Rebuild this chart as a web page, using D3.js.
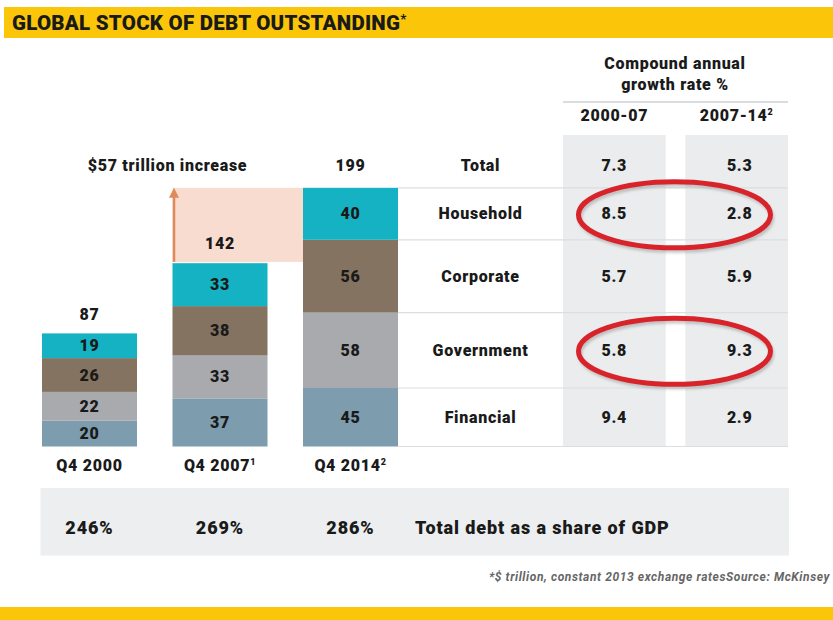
<!DOCTYPE html>
<html>
<head>
<meta charset="utf-8">
<script src="https://cdn.jsdelivr.net/npm/d3@7"></script>
<style>
  html, body { margin: 0; padding: 0; background: #fff; }
  svg { display: block; font-family: Roboto, "Open Sans", sans-serif; }
  text { font-weight: 900; fill: #1a1a1a; letter-spacing: 0.7px; }
</style>
</head>
<body>
<svg id="chart" width="833" height="620"></svg>
<script>
// ---- data ----
const categories = ["Q4 2000", "Q4 2007", "Q4 2014"];
const categorySup = ["", "1", "2"];
const sectors = ["Financial", "Government", "Corporate", "Household"]; // bottom to top
const financial  = [20, 37, 45];
const government = [22, 33, 58];
const corporate  = [26, 38, 56];
const household  = [19, 33, 40];
const totals     = [87, 142, 199];
const gdpShare   = ["246%", "269%", "286%"];
const periods    = ["2000-07", "2007-14"];
const periodSup  = ["", "2"];
const cagrRows   = ["Total", "Household", "Corporate", "Government", "Financial"];
const cagr0007   = [7.3, 8.5, 5.7, 5.8, 9.4];
const cagr0714   = [5.3, 2.8, 5.9, 9.3, 2.9];
const highlighted = ["Household", "Government"];

const seriesBySector = { Financial: financial, Government: government, Corporate: corporate, Household: household };
const colors = { Financial: "#7d9cad", Government: "#a8aaae", Corporate: "#847360", Household: "#14b2c2" };

const svg = d3.select("#chart");
const FS = "16px";

// ---- header & footer bands ----
svg.append("rect").attr("x", 4).attr("y", 7).attr("width", 829).attr("height", 31).attr("fill", "#fbc60a");
const title = svg.append("text").attr("x", 12).attr("y", 30).style("font-size", "20.5px").style("letter-spacing", "0.25px");
title.append("tspan").text("GLOBAL STOCK OF DEBT OUTSTANDING");
title.append("tspan").text("*").attr("dy", -7).style("font-size", "13px");
svg.append("rect").attr("x", 0).attr("y", 607).attr("width", 833).attr("height", 13).attr("fill", "#fbc60a");

// ---- scales ----
const x = d3.scaleBand().domain(categories).range([42, 398]).paddingInner(0.272).paddingOuter(0);
const y = d3.scaleLinear().domain([0, 200]).range([446.5, 186.5]);

// stack
const table = categories.map((c, i) => {
  const o = { cat: c };
  sectors.forEach(s => o[s] = seriesBySector[s][i]);
  return o;
});
const stacked = d3.stack().keys(sectors)(table);

// ---- increase highlight (2007 -> 2014) ----
const c2007 = categories[1], c2014 = categories[2];
svg.append("rect")
  .attr("x", x(c2007)).attr("y", y(totals[2]))
  .attr("width", x(c2014) - x(c2007)).attr("height", y(totals[1]) - y(totals[2]))
  .attr("fill", "#f8dccf");
svg.append("line")
  .attr("x1", x(c2007) + 1.5).attr("x2", x(c2007) + 1.5)
  .attr("y1", y(totals[1])).attr("y2", y(totals[2]) + 8)
  .attr("stroke", "#e08a5b").attr("stroke-width", 2.5);
svg.append("path")
  .attr("d", `M${x(c2007) + 1.5},${y(totals[2])} l-5,10 l10,0 z`)
  .attr("fill", "#e08a5b");
svg.append("text").attr("x", x(c2007) - 5).attr("y", 171).attr("text-anchor", "middle")
  .style("font-size", FS).text("$" + (totals[2] - totals[1]) + " trillion increase");

// ---- table background ----
const colX = d3.scaleBand().domain(periods).range([563, 788]).paddingInner(0.16).paddingOuter(0);
const rowTop = 135;
svg.selectAll("rect.col").data(periods).join("rect").attr("class", "col")
  .attr("x", d => colX(d)).attr("y", rowTop).attr("width", colX.bandwidth()).attr("height", y(0) - rowTop)
  .attr("fill", "#eaeced");

// row boundaries from the 2014 stack
const last = stacked.map(layer => ({ key: layer.key, y0: y(layer[2][0]), y1: y(layer[2][1]) }));
const boundaries = [y(totals[2])].concat(last.map(l => l.y0));
svg.selectAll("line.row").data(boundaries).join("line").attr("class", "row")
  .attr("x1", x(c2014) + x.bandwidth()).attr("x2", 788)
  .attr("y1", d => d).attr("y2", d => d)
  .attr("stroke", "#dcdee0").attr("stroke-width", 1.2);
svg.append("line").attr("x1", 563).attr("x2", 788).attr("y1", 102).attr("y2", 102)
  .attr("stroke", "#cfd1d3").attr("stroke-width", 1.5);

// ---- bars ----
const layers = svg.selectAll("g.layer").data(stacked).join("g").attr("class", "layer")
  .attr("fill", d => colors[d.key]);
layers.selectAll("rect").data(d => d).join("rect")
  .attr("x", d => x(d.data.cat)).attr("width", x.bandwidth())
  .attr("y", d => y(d[1])).attr("height", d => y(d[0]) - y(d[1]));
layers.selectAll("text").data(d => d.map(v => Object.assign(v, { key: d.key }))).join("text")
  .attr("x", d => x(d.data.cat) + x.bandwidth() / 2)
  .attr("y", d => (y(d[0]) + y(d[1])) / 2 + 5.5)
  .attr("text-anchor", "middle").style("font-size", FS)
  .text(d => d.data[d.key]);

// totals
const totalRowY = 171;
svg.selectAll("text.total").data(totals).join("text").attr("class", "total")
  .attr("x", (d, i) => x(categories[i]) + x.bandwidth() / 2)
  .attr("y", (d, i) => i === 2 ? totalRowY : y(d) - 13)
  .attr("text-anchor", "middle").style("font-size", FS).text(d => d);

// category labels
const catLab = svg.selectAll("text.cat").data(categories).join("text").attr("class", "cat")
  .attr("x", d => x(d) + x.bandwidth() / 2).attr("y", 471)
  .attr("text-anchor", "middle").style("font-size", FS);
catLab.append("tspan").text(d => d);
catLab.append("tspan").text((d, i) => categorySup[i]).attr("dy", -6).style("font-size", "9px");

// ---- table text ----
svg.append("text").attr("x", 675).attr("y", 69).attr("text-anchor", "middle").style("font-size", FS).text("Compound annual");
svg.append("text").attr("x", 675).attr("y", 90).attr("text-anchor", "middle").style("font-size", FS).text("growth rate %");
const ph = svg.selectAll("text.period").data(periods).join("text").attr("class", "period")
  .attr("x", d => colX(d) + colX.bandwidth() / 2 + 0).attr("y", 121)
  .attr("text-anchor", "middle").style("font-size", FS);
ph.append("tspan").text(d => d);
ph.append("tspan").text((d, i) => periodSup[i]).attr("dy", -6).style("font-size", "9px");

const rowCenters = [totalRowY - 5.5].concat(
  cagrRows.slice(1).map(r => { const l = last.find(q => q.key === r); return (l.y0 + l.y1) / 2; })
);
const labelX = (x(c2014) + x.bandwidth() + 563) / 2;
svg.selectAll("text.rowlab").data(cagrRows).join("text").attr("class", "rowlab")
  .attr("x", labelX).attr("y", (d, i) => rowCenters[i] + 5.5)
  .attr("text-anchor", "middle").style("font-size", FS).text(d => d);
[cagr0007, cagr0714].forEach((vals, j) => {
  svg.selectAll("text.v" + j).data(vals).join("text").attr("class", "v" + j)
    .attr("x", colX(periods[j]) + colX.bandwidth() / 2 + (j === 1 ? 3 : 0))
    .attr("y", (d, i) => rowCenters[i] + 5.5)
    .attr("text-anchor", "middle").style("font-size", FS).text(d => d.toFixed(1));
});

// highlight ellipses
const defs = svg.append("defs");
defs.append("filter").attr("id", "blur").append("feGaussianBlur").attr("stdDeviation", 1.5);
highlighted.forEach(r => {
  const cy = rowCenters[cagrRows.indexOf(r)] + 1;
  svg.append("ellipse").attr("cx", 676).attr("cy", cy + 3).attr("rx", 96).attr("ry", 33)
    .attr("fill", "none").attr("stroke", "#9a9a9a").attr("stroke-width", 4).attr("opacity", 0.6)
    .attr("filter", "url(#blur)");
  svg.append("ellipse").attr("cx", 674.5).attr("cy", cy).attr("rx", 96).attr("ry", 33)
    .attr("fill", "none").attr("stroke", "#d9232b").attr("stroke-width", 5);
});

// ---- GDP band ----
svg.append("rect").attr("x", 40.5).attr("y", 488).attr("width", 748.5).attr("height", 67.5).attr("fill", "#eceeef");
svg.selectAll("text.gdp").data(gdpShare).join("text").attr("class", "gdp")
  .attr("x", (d, i) => x(categories[i]) + x.bandwidth() / 2).attr("y", 534)
  .attr("text-anchor", "middle").style("font-size", "18px").style("letter-spacing", "0.9px").text(d => d);
svg.append("text").attr("x", 415).attr("y", 534).style("font-size", "18px").style("letter-spacing", "0.9px")
  .text("Total debt as a share of GDP");

// footnote
svg.append("text").attr("x", 830).attr("y", 581).attr("text-anchor", "end")
  .style("font-size", "12px").style("font-style", "italic").style("font-weight", 700).style("letter-spacing", "0.6px")
  .style("fill", "#666").text("*$ trillion, constant 2013 exchange ratesSource: McKinsey");
</script>
</body>
</html>
